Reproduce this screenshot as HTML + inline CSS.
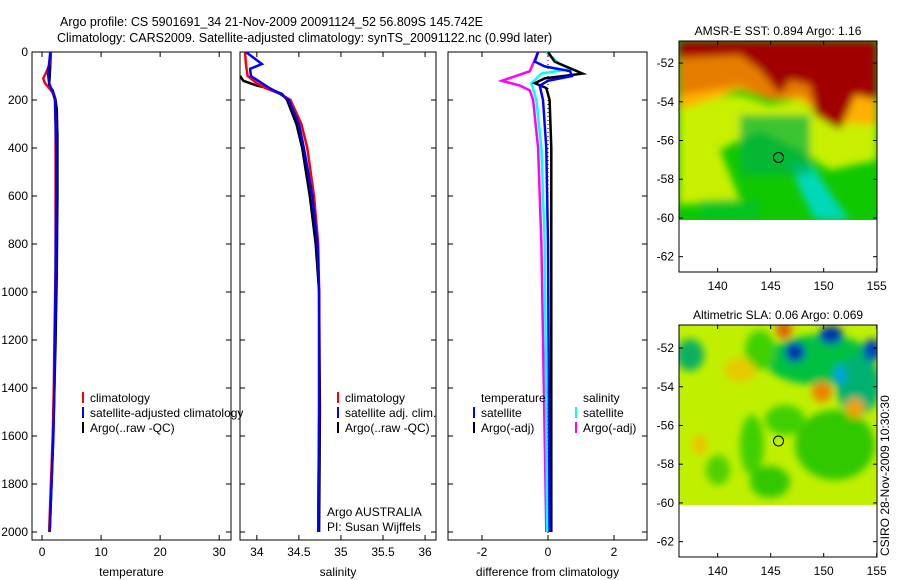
<!DOCTYPE html>
<html><head><meta charset="utf-8">
<style>
body{margin:0;background:#fff;}
svg{display:block;font-family:"Liberation Sans",sans-serif;}
text{font-size:12px;fill:#000;}
text.title{font-size:12.5px;}
</style></head>
<body>
<svg id="fig" width="900" height="580" viewBox="0 0 900 580" xmlns="http://www.w3.org/2000/svg">
<defs>
<filter id="blur" x="-10%" y="-10%" width="120%" height="120%"><feGaussianBlur stdDeviation="4"/></filter>
<clipPath id="c1"><rect x="32" y="52" width="199" height="488"/></clipPath>
<clipPath id="c2"><rect x="240" y="52" width="196" height="488"/></clipPath>
<clipPath id="c3"><rect x="448" y="52" width="199" height="488"/></clipPath>
<clipPath id="m1"><rect x="679" y="41" width="198" height="179"/></clipPath>
<clipPath id="m2"><rect x="679" y="325" width="198" height="180"/></clipPath>
</defs>
<text class="title" x="60" y="26">Argo profile: CS 5901691_34 21-Nov-2009 20091124_52 56.809S 145.742E</text>
<text class="title" x="57" y="42">Climatology: CARS2009. Satellite-adjusted climatology: synTS_20091122.nc (0.99d later)</text>

<!-- Map 1: SST -->
<g clip-path="url(#m1)">
<rect x="679" y="41" width="198" height="179" fill="#10c800"/>
<g filter="url(#blur)">
<path d="M679,100 L740,95 L770,105 L800,100 L830,125 L877,120 L877,160 L830,170 L800,150 L760,130 L720,150 L740,200 L679,205 Z" fill="#c8f000"/>
<path d="M679,41 L877,41 L877,125 L830,122 L800,100 L770,100 L740,90 L679,110 Z" fill="#ffb000"/>
<path d="M679,41 L877,41 L877,100 L855,95 L840,130 L815,115 L810,85 L790,80 L780,95 L760,70 L740,55 L679,58 Z" fill="#a00000"/>
<path d="M679,58 L740,55 L760,70 L780,95 L790,80 L810,85 L815,105 L800,95 L770,100 L740,85 L679,95 Z" fill="#e07000" opacity="0.8"/>
<path d="M790,160 L812,165 L835,200 L850,220 L815,220 L800,190 Z" fill="#00d8b8"/>
<rect x="740" y="115" width="70" height="60" fill="#00b048" opacity="0.7"/>
<rect x="700" y="200" width="60" height="20" fill="#00c030" opacity="0.7"/>
</g>
</g>
<rect x="679" y="41" width="198" height="231" fill="none" stroke="#000"/>
<text x="778" y="35" text-anchor="middle">AMSR-E SST: 0.894 Argo: 1.16</text>
<circle cx="778.5" cy="157.5" r="5" fill="none" stroke="#000"/>

<!-- Map 2: SLA -->
<g clip-path="url(#m2)">
<rect x="679" y="325" width="198" height="180" fill="#c0f000"/>
<g filter="url(#blur)">
<ellipse cx="820" cy="360" rx="55" ry="25" fill="#00c040"/>
<ellipse cx="835" cy="445" rx="40" ry="35" fill="#30c800"/>
<ellipse cx="760" cy="350" rx="15" ry="20" fill="#40d000"/>
<ellipse cx="752" cy="445" rx="12" ry="30" fill="#40d000"/>
<ellipse cx="770" cy="482" rx="20" ry="16" fill="#30c800"/>
<ellipse cx="718" cy="470" rx="12" ry="15" fill="#50d000"/>
<ellipse cx="785" cy="420" rx="20" ry="15" fill="#40d000"/>
<ellipse cx="690" cy="355" rx="14" ry="16" fill="#10b060"/>
<ellipse cx="858" cy="385" rx="22" ry="30" fill="#00b070"/>
<ellipse cx="795" cy="352" rx="10" ry="10" fill="#0030b0"/>
<ellipse cx="831" cy="335" rx="12" ry="9" fill="#0030b0"/>
<ellipse cx="872" cy="350" rx="9" ry="11" fill="#0040c0"/>
<ellipse cx="840" cy="375" rx="6" ry="10" fill="#00a0e0"/>
<ellipse cx="784" cy="330" rx="8" ry="9" fill="#e06000"/>
<ellipse cx="822" cy="392" rx="10" ry="10" fill="#f08000"/>
<ellipse cx="855" cy="408" rx="9" ry="10" fill="#f0a000"/>
<ellipse cx="740" cy="370" rx="16" ry="12" fill="#f0c000" opacity="0.8"/>
<ellipse cx="700" cy="445" rx="7" ry="10" fill="#f0c000"/>
</g>
</g>
<rect x="679" y="325" width="198" height="232" fill="none" stroke="#000"/>
<text x="778" y="319" text-anchor="middle">Altimetric SLA: 0.06 Argo: 0.069</text>
<circle cx="778.5" cy="441" r="5" fill="none" stroke="#000"/>
<text transform="translate(889,556) rotate(-90)">CSIRO 28-Nov-2009 10:30:30</text>

<text x="327" y="516">Argo AUSTRALIA</text>
<text x="327" y="531">PI: Susan Wijffels</text>
<g id="dyn"></g>
</svg>
<script>
// ---- data ----
const depthTicks=[0,200,400,600,800,1000,1200,1400,1600,1800,2000];
const tempTicks=[0,10,20,30];
const salTicks=[34,34.5,35,35.5,36];
const diffTicks=[-2,0,2];
const lonTicks=[140,145,150,155];
const latTicks=[-52,-54,-56,-58,-60,-62];

const tClimDepth=[0,50,80,110,130,150,170,200,300,400,600,900,1200,1400,1600,1800,2000];
const tClim=[1.5,1.3,0.8,0.2,0.5,1.2,1.8,2.2,2.3,2.3,2.3,2.3,2.1,2.0,1.8,1.5,1.2];
const tSatDepth=[0,50,80,110,130,150,170,200,300,400,600,900,1200,1400,1600,1800,2000];
const tSat=[1.4,1.2,1.0,1.1,1.2,1.5,1.9,2.2,2.3,2.4,2.4,2.3,2.2,2.1,1.9,1.6,1.3];
const tArgoDepth=[0,50,100,140,160,200,240,350,600,900,1200,1400,1600,1800,2000];
const tArgo=[1.5,1.4,1.3,1.2,1.8,2.3,2.5,2.6,2.6,2.5,2.3,2.1,1.9,1.6,1.3];

const sClimDepth=[0,50,100,130,150,175,200,300,400,600,800,1000,1500,2000];
const sClim=[33.86,33.87,33.89,34.0,34.1,34.28,34.4,34.53,34.6,34.68,34.73,34.74,34.74,34.73];
const sSatDepth=[0,50,70,100,130,150,175,200,300,400,600,800,1000,1500,2000];
const sSat=[33.87,34.06,33.92,33.93,34.06,34.15,34.28,34.38,34.5,34.56,34.66,34.72,34.74,34.74,34.73];
const sArgoDepth=[100,120,140,150,175,200,300,400,600,800,1000,1500,2000];
const sArgo=[33.8,33.84,34.0,34.13,34.3,34.36,34.47,34.54,34.63,34.7,34.74,34.75,34.74];

const dTSatDepth=[0,40,60,80,100,120,140,200,400,800,2000];
const dTSat=[-0.3,-0.4,-0.1,0.67,0.72,0.0,-0.25,-0.15,-0.05,0.0,0.05];
const dTArgoDepth=[0,40,90,110,130,150,200,400,800,2000];
const dTArgo=[0.0,0.2,1.05,-0.1,-0.4,-0.05,0.05,0.1,0.1,0.1];
const dSSatDepth=[0,50,70,90,130,200,400,800,2000];
const dSSat=[-0.05,0.35,0.7,-0.2,-0.5,-0.35,-0.2,-0.1,-0.02];
const dSArgoDepth=[0,80,120,140,160,200,400,800,2000];
const dSArgo=[-0.3,-0.55,-1.4,-0.85,-0.55,-0.45,-0.3,-0.2,-0.05];

const NS='http://www.w3.org/2000/svg';
const root=document.getElementById('dyn');
const yD=d=>52+d*0.24;
function mk(tag,attrs,parent){const e=document.createElementNS(NS,tag);for(const k in attrs)e.setAttribute(k,attrs[k]);(parent||root).appendChild(e);return e;}
function txt(x,y,s,anchor){const t=mk('text',{x:x,y:y,'text-anchor':anchor||'middle'});t.textContent=s;return t;}

function panel(name,x0,x1,xmin,xmax,xt,label,showY){
  const sx=v=>x0+(v-xmin)/(xmax-xmin)*(x1-x0);
  const g=mk('g',{});
  
  
  const fr=mk('rect',{x:x0,y:52,width:x1-x0,height:488,fill:'none',stroke:'#000'},g);
  
  
  xt.forEach(v=>{const x=sx(v);mk('line',{x1:x,x2:x,y1:540,y2:535,stroke:'#000'},g);mk('line',{x1:x,x2:x,y1:52,y2:57,stroke:'#000'},g);
    const t=txt(x,556,String(v));g.appendChild(t);
    
    });
  depthTicks.forEach(d=>{const y=yD(d);mk('line',{x1:x0,x2:x0+5,y1:y,y2:y,stroke:'#000'},g);mk('line',{x1:x1,x2:x1-5,y1:y,y2:y,stroke:'#000'},g);
    if(showY){const t=txt(28,y+4,String(d),'end');g.appendChild(t);
      
      }});
  const l=txt((x0+x1)/2,576,label);g.appendChild(l);
  
  
  return {sx,g};
}
function line(p,clip,depths,vals,color,name,w){
  const pts=depths.map((d,i)=>p.sx(vals[i]).toFixed(1)+','+yD(d).toFixed(1)).join(' ');
  const pl=mk('polyline',{points:pts,fill:'none',stroke:color,'stroke-width':w||2.5,'clip-path':'url(#'+clip+')'});
  
  
}
function legend(x,y,color,label,name){
  if(color){const m=mk('rect',{x:x,y:y-10,width:2,height:11,fill:color});
    
    }
  const t=txt(x+8,y,label,'start');
  
  
}

const p1=panel('temperature',32,231,-1.7,32,tempTicks,'temperature',true);
line(p1,'c1',tArgoDepth,tArgo,'#000','temp-argo-line');
line(p1,'c1',tClimDepth,tClim,'#f00','temp-climatology-line');
line(p1,'c1',tSatDepth,tSat,'#00f','temp-satellite-line');
legend(82,402,'#f00','climatology','temp-legend-climatology');
legend(82,417,'#00f','satellite-adjusted climatology','temp-legend-satellite');
legend(82,432,'#000','Argo(..raw -QC)','temp-legend-argo');

const p2=panel('salinity',240,436,33.8,36.13,salTicks,'salinity',false);
line(p2,'c2',sArgoDepth,sArgo,'#000','sal-argo-line');
line(p2,'c2',sClimDepth,sClim,'#f00','sal-climatology-line');
line(p2,'c2',sSatDepth,sSat,'#00f','sal-satellite-line');
legend(337,402,'#f00','climatology','sal-legend-climatology');
legend(337,417,'#00f','satellite adj. clim.','sal-legend-satellite');
legend(337,432,'#000','Argo(..raw -QC)','sal-legend-argo');

const p3=panel('difference',448,647,-3.03,3.0,diffTicks,'difference from climatology',false);
const z=mk('line',{x1:p3.sx(0),x2:p3.sx(0),y1:52,y2:540,stroke:'#000','stroke-dasharray':'1,3'});


line(p3,'c3',dSArgoDepth,dSArgo,'#f0f','diff-sal-argo-line');
line(p3,'c3',dSSatDepth,dSSat,'#0ff','diff-sal-satellite-line');
line(p3,'c3',dTArgoDepth,dTArgo,'#000','diff-temp-argo-line');
line(p3,'c3',dTSatDepth,dTSat,'#00f','diff-temp-satellite-line');
legend(473,402,null,'temperature','diff-legend-temperature-header');
legend(473,417,'#00f','satellite','diff-legend-temp-satellite');
legend(473,432,'#000','Argo(-adj)','diff-legend-temp-argo');
legend(575,402,null,'salinity','diff-legend-salinity-header');
legend(575,417,'#0ff','satellite','diff-legend-sal-satellite');
legend(575,432,'#f0f','Argo(-adj)','diff-legend-sal-argo');

// map axes
function mapAxes(name,top,bottom,latTop){
  const sx=v=>679+(v-136.35)*10.6;
  const sy=v=>top+(latTop-v)*19.36;
  lonTicks.forEach(v=>{const x=sx(v);mk('line',{x1:x,x2:x,y1:bottom,y2:bottom-4,stroke:'#000'});mk('line',{x1:x,x2:x,y1:top,y2:top+4,stroke:'#000'});
    const t=txt(x,bottom+18,String(v));
    
    });
  latTicks.forEach(v=>{const y=sy(v);mk('line',{x1:679,x2:683,y1:y,y2:y,stroke:'#000'});mk('line',{x1:877,x2:873,y1:y,y2:y,stroke:'#000'});
    const t=txt(674,y+4,String(v),'end');
    
    });
}
mapAxes('sst-map',41,272,-50.86);
mapAxes('sla-map',325,557,-50.81);
</script>
</body></html>
